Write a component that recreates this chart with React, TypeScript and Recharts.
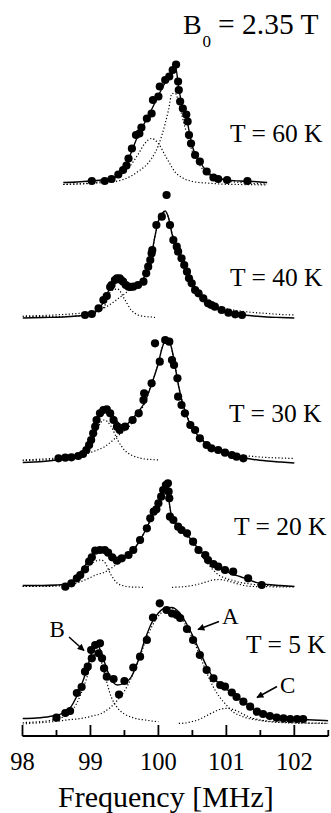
import React from 'react';
import { ComposedChart, Line, Scatter, XAxis, YAxis, Label } from 'recharts';

const FONT = "'Liberation Serif', 'Times New Roman', 'DejaVu Serif', serif";

// ---------- T = 60 K ----------
const f60Dots = [99.02, 99.21, 99.31, 99.41, 99.48, 99.53, 99.56, 99.61, 99.67, 99.72, 99.75, 99.83, 99.9, 99.92, 100.0, 100.02, 100.1, 100.16, 100.21, 100.26, 100.29, 100.3, 100.32, 100.36, 100.41, 100.43, 100.45, 100.48, 100.54, 100.61, 100.71, 100.81, 100.88, 101.01, 101.31];
const v60Dots = [4.5, 4.5, 6.5, 11, 15.5, 20, 27, 37, 50.5, 52, 58, 67, 72, 85.5, 89, 99, 105.5, 109, 115.5, 121, 104, 95.5, 84, 77, 71, 64, 50.5, 42, 30.5, 24, 14, 8, 6.5, 5.5, 4.5];
const f60Fit = [98.6, 98.8, 99.0, 99.2, 99.3, 99.4, 99.5, 99.6, 99.7, 99.8, 99.9, 100.0, 100.1, 100.15, 100.2, 100.25, 100.3, 100.35, 100.4, 100.45, 100.5, 100.6, 100.7, 100.8, 100.9, 101.0, 101.2, 101.4, 101.6];
const fit60Sum = [3, 3.5, 4.5, 6, 7.5, 10, 17, 33, 50, 63, 76, 90, 103, 109, 115, 119, 97, 80, 72, 55, 39, 25, 15, 9.5, 7, 5.5, 4.5, 4, 3];
const fit60Low = [1, 1.5, 2.5, 4.5, 6, 9, 14, 21, 31, 42, 47, 42, 30, 24, 18, 13, 10, 8, 6, 5, 4, 3, 2.5, 2, 1.5, 1.2, 1, 0.8, 0.6];
const fit60High = [1, 1.5, 2, 3, 3.5, 4.5, 6.5, 9.5, 14, 19, 27, 40, 62, 76, 92, 92, 82, 69, 56, 44, 34, 21, 13, 8.5, 6, 4.5, 3, 2, 1.5];

// ---------- T = 40 K ----------
const f40Dots = [98.92, 99.02, 99.12, 99.19, 99.24, 99.29, 99.31, 99.36, 99.39, 99.43, 99.45, 99.48, 99.52, 99.56, 99.59, 99.63, 99.7, 99.78, 99.82, 99.85, 99.88, 99.9, 99.91, 99.97, 100.05, 100.12, 100.17, 100.22, 100.27, 100.29, 100.34, 100.38, 100.42, 100.45, 100.49, 100.54, 100.59, 100.66, 100.73, 100.78, 100.83, 100.93, 101.03, 101.13, 101.23];
const v40Dots = [3, 4, 9.7, 18, 22, 31, 33, 38, 39.7, 39.7, 38, 36.3, 33, 31.3, 31, 31.3, 33, 36.3, 44.7, 51.3, 58, 64.7, 68, 93, 101.3, 123, 93, 78, 71.3, 66.3, 59.7, 53, 46.3, 39.7, 34.7, 28, 24.7, 19.7, 14.7, 13, 11.3, 8, 5.3, 3.7, 3];
const f40Fit = [98.0, 98.3, 98.6, 98.8, 99.0, 99.1, 99.2, 99.3, 99.4, 99.5, 99.6, 99.7, 99.8, 99.9, 99.95, 100.0, 100.05, 100.1, 100.15, 100.2, 100.3, 100.4, 100.5, 100.6, 100.7, 100.8, 100.9, 101.0, 101.2, 101.4, 101.6, 101.8, 102.0];
const fit40Sum = [0, 0.5, 1, 2, 4, 7, 17, 32, 39, 35, 32, 34, 42, 64, 82, 97, 104, 107, 100, 84, 66, 50, 34, 24, 17, 12, 8.5, 6, 3.5, 2, 1, 0.5, 0];
const fit40A = [2, 2.5, 3.5, 4.5, 6, 7.5, 10, 14, 19, 24, 29, 33, 42, 63, 82, 97, 104, 106, 100, 85, 67, 51, 36, 27, 20, 15, 12, 9.5, 7, 5.5, 4.5, 3.5, 3];
const fit40B = [1.5, 1.5, 1.5, 2, 3.5, 6, 11, 27, 29, 19, 8, 3, 1.5, 1, 0.5, null, null, null, null, null, null, null, null, null, null, null, null, null, null, null, null, null, null];

// ---------- T = 30 K ----------
const f30Dots = [98.53, 98.63, 98.72, 98.82, 98.89, 98.94, 98.98, 99.01, 99.04, 99.07, 99.09, 99.14, 99.19, 99.24, 99.29, 99.34, 99.39, 99.43, 99.51, 99.62, 99.71, 99.78, 99.79, 99.9, 99.95, 100.02, 100.1, 100.16, 100.2, 100.23, 100.28, 100.29, 100.34, 100.39, 100.47, 100.54, 100.61, 100.71, 100.78, 100.88, 100.98, 101.08, 101.15, 101.25];
const v30Dots = [3.7, 4.3, 4.7, 6, 8, 12, 17, 22, 28.7, 35.3, 42, 48.7, 52, 52.7, 48.7, 42, 35.3, 32, 35.3, 42, 48.7, 62, 68.7, 78.7, 118.7, 100.3, 122, 120.3, 102, 97, 83.7, 65.3, 57, 48.7, 37, 32, 23.7, 17, 13.7, 12, 9.3, 7, 5.3, 3.7];
const f30Fit = [98.0, 98.3, 98.5, 98.7, 98.8, 98.9, 99.0, 99.1, 99.2, 99.3, 99.4, 99.5, 99.6, 99.7, 99.8, 99.9, 100.0, 100.05, 100.1, 100.15, 100.2, 100.25, 100.3, 100.4, 100.5, 100.6, 100.7, 100.8, 100.9, 101.0, 101.2, 101.4, 101.6, 101.8, 102.0];
const fit30Sum = [-0.5, 0.5, 2, 4.5, 6.5, 10, 23, 44, 54, 50, 40, 36, 42, 50, 60, 78, 99, 113, 121, 122, 112, 94, 75, 49, 34, 25, 18.5, 14.5, 11.5, 9, 5, 2.5, 1, 0, -1];
const fit30A = [2, 3, 4, 5.5, 6.5, 8, 9.5, 12, 15, 20, 26, 31, 38, 48, 59, 78, 99, 113, 121, 122, 112, 94, 75, 50, 35, 26, 19.5, 15.5, 12.5, 10, 7, 5.5, 4.5, 4, 3.5];
const fit30B = [1.5, 2, 2.5, 3.5, 4.5, 7, 15, 33, 42, 36, 22, 12, 7, 4.5, 3, 2.5, 2, null, null, null, null, null, null, null, null, null, null, null, null, null, null, null, null, null, null];

// ---------- T = 20 K ----------
const f20Dots = [98.63, 98.72, 98.8, 98.85, 98.92, 98.98, 99.02, 99.07, 99.14, 99.21, 99.26, 99.32, 99.39, 99.46, 99.56, 99.63, 99.73, 99.83, 99.88, 99.93, 99.97, 100.0, 100.04, 100.07, 100.11, 100.14, 100.15, 100.16, 100.17, 100.22, 100.29, 100.34, 100.42, 100.51, 100.59, 100.69, 100.73, 100.81, 100.88, 100.98, 101.1, 101.32, 101.52];
const v20Dots = [0.8, 4.2, 9.2, 12.5, 18.2, 25.8, 30.2, 36.8, 37.5, 37.5, 34.8, 30.2, 26.8, 29.2, 32.5, 37.5, 47.5, 59.2, 69.2, 75.8, 78.2, 84.2, 90.8, 97.5, 102.5, 104.2, 95.8, 89.2, 70.8, 67.5, 60.8, 57.5, 54.2, 45.8, 37.5, 32.5, 27.5, 23.5, 20.8, 17.5, 15.8, 9.2, 2.5];
const f20Fit = [98.0, 98.3, 98.5, 98.6, 98.7, 98.8, 98.9, 99.0, 99.1, 99.15, 99.2, 99.3, 99.4, 99.5, 99.6, 99.7, 99.8, 99.9, 100.0, 100.05, 100.1, 100.13, 100.16, 100.2, 100.3, 100.4, 100.5, 100.6, 100.7, 100.8, 100.9, 101.0, 101.1, 101.2, 101.3, 101.4, 101.5, 101.6, 101.8, 102.0];
const fit20Sum = [2, 2, 2.5, 3, 5, 11, 20, 30, 38, 38.5, 38, 33, 28, 30, 35, 44, 56, 70, 84, 94, 102, 105, 85, 70, 61, 55, 46, 38, 31, 25, 20, 16, 13, 11, 8.5, 6, 4, 3, 2, 1];
const fit20A = [1, 1.5, 2, 2.5, 3, 4.5, 7, 10, 13, 14, 15, 19, 24, 28.5, 34.5, 44, 56, 70, 84, 94, 102, 105, 85, 70, 61, 53, 44, 35, 26, 18, 12, 9, 7, 5, 4, 3, 2.5, 2, 1.5, 1];
const fit20B = [1, 1, 1.5, 2, 4, 8, 16, 23, 27, 27.5, 26, 13, 4, 1.5, 0.5, 0.3, 0.2, null, null, null, null, null, null, null, null, null, null, null, null, null, null, null, null, null, null, null, null, null, null, null];
const fit20C = [null, null, null, null, null, null, null, null, null, null, null, null, null, null, null, null, null, null, null, null, null, null, null, 0.2, 0.5, 1, 2, 3.5, 5.5, 7.5, 8, 7, 5, 3, 1.5, 1, 0.9, 0.8, 0.6, 0.5];

// ---------- T = 5 K ----------
const f5Dots = [98.5, 98.63, 98.7, 98.8, 98.87, 98.92, 98.96, 99.01, 99.02, 99.07, 99.12, 99.14, 99.17, 99.2, 99.24, 99.34, 99.42, 99.5, 99.63, 99.73, 99.83, 99.92, 100.02, 100.12, 100.2, 100.27, 100.32, 100.42, 100.51, 100.61, 100.71, 100.81, 100.91, 100.98, 101.08, 101.15, 101.25, 101.35, 101.45, 101.54, 101.64, 101.74, 101.84, 101.94, 102.04, 102.13];
const v5Dots = [6.3, 11, 13, 31, 37, 52.3, 57.3, 74, 65.7, 79, 70.7, 80.7, 65.7, 55.7, 47.3, 45, 29.5, 43, 56.5, 67.3, 84, 106.5, 120.7, 114, 110.5, 109, 106, 95, 84, 69, 54, 45.7, 39, 37.3, 31.5, 27, 22.3, 17.3, 12.3, 10, 8, 6.3, 5.7, 5, 5, 5];
const f5Fit = [98.0, 98.2, 98.4, 98.6, 98.7, 98.8, 98.9, 99.0, 99.05, 99.1, 99.2, 99.3, 99.4, 99.5, 99.6, 99.7, 99.8, 99.9, 100.0, 100.1, 100.2, 100.3, 100.4, 100.5, 100.6, 100.7, 100.8, 100.9, 101.0, 101.1, 101.2, 101.3, 101.4, 101.5, 101.6, 101.8, 102.0, 102.2, 102.5];
const fit5Sum = [5.5, 6, 7.5, 11, 16, 28, 45, 67, 77, 79, 63, 45, 39, 41, 47, 63, 84, 101, 111, 116, 116.5, 112, 102, 89, 74, 59, 47, 40, 35, 30, 25, 20, 15, 11.5, 9, 6, 5, 4.2, 3.3];
const fit5A = [0, 1, 2, 3.5, 4.5, 5, 6, 7.5, 8.5, 9, 12, 17, 24, 33, 46, 62, 81, 97, 108, 114, 115.5, 110, 99, 86, 70, 53, 38, 27, 19, 12, 8.5, 6, 4.5, 3.5, 2.5, 1.5, 1, 0.8, 0.7];
const fit5B = [1.5, 2, 3.5, 7, 11, 21, 37, 58, 69, 72, 52, 28, 16, 10, 7, 5, 4, 3, 2.3, null, null, null, null, null, null, null, null, null, null, null, null, null, null, null, null, null, null, null, null];
const fit5C = [null, null, null, null, null, null, null, null, null, null, null, null, null, null, null, null, null, null, null, null, null, 0.6, 1, 2.5, 4.5, 8, 11.5, 14.5, 15.7, 14.5, 11.5, 8, 5.5, 4, 3, 2, 1.3, 1, 0.7];

// ---------- axis / labels ----------
const xTicks = [98, 98.5, 99, 99.5, 100, 100.5, 101, 101.5, 102, 102.5];
const tempLabels = ['T = 60 K', 'T = 40 K', 'T = 30 K', 'T = 20 K', 'T = 5 K'];
const peakLabels = ['A', 'B', 'C'];

type Pt = { f: number; v: number };
const toPts = (fs: number[], vs: (number | null)[]): Pt[] =>
  fs
    .map((f, i) => ({ f, v: vs[i] as number }))
    .filter((d) => d.v !== null && d.v !== undefined);

const DotShape = (p: any) =>
  p.cx == null || p.cy == null ? <g /> : <circle cx={p.cx} cy={p.cy} r={4.1} fill="#000" />;

const FreqTick = (p: any) => {
  const { x, y, payload } = p;
  const val = payload.value as number;
  const major = Math.abs(val - Math.round(val)) < 1e-6;
  return (
    <g>
      <line x1={x} x2={x} y1={y} y2={y - (major ? 11 : 6)} stroke="#000" strokeWidth={1.8} />
      {major ? (
        <text x={x} y={y + 34} textAnchor="middle" fontFamily={FONT} fontSize={24.5} fill="#000">
          {val}
        </text>
      ) : null}
    </g>
  );
};

const AxisTitle = (p: any) => {
  const vb = p && p.viewBox;
  const cx = vb ? vb.x + vb.width / 2 - 9.5 : 166;
  const by = vb ? vb.y + 70.7 : 806.7;
  return (
    <text x={cx} y={by} textAnchor="middle" fontFamily={FONT} fontSize={30} fill="#000">
      Frequency [MHz]
    </text>
  );
};

const AXIS_H = 77;

type PanelProps = {
  top: number;
  plotH: number;
  baseY: number;
  dots: Pt[];
  sum: Pt[];
  comps: Pt[][];
  axis?: boolean;
};

function Panel({ top, plotH, baseY, dots, sum, comps, axis }: PanelProps) {
  const h = plotH + (axis ? AXIS_H : 0);
  const vMax = baseY - top;
  const vMin = baseY - (top + plotH);
  return (
    <div style={{ position: 'absolute', left: 0, top, width: 331, height: h }}>
      <ComposedChart width={331} height={h} margin={{ top: 0, right: 2.7, bottom: 0, left: 22.5 }}>
        {axis ? (
          <XAxis
            type="number"
            dataKey="f"
            domain={[98, 102.5]}
            allowDataOverflow
            ticks={xTicks}
            interval={0}
            tick={FreqTick}
            tickLine={false}
            tickSize={0}
            tickMargin={0}
            axisLine={{ stroke: '#000', strokeWidth: 1.8 }}
            height={AXIS_H}
          >
            <Label content={AxisTitle} />
          </XAxis>
        ) : (
          <XAxis type="number" dataKey="f" domain={[98, 102.5]} allowDataOverflow hide />
        )}
        <YAxis type="number" dataKey="v" domain={[vMin, vMax]} allowDataOverflow hide />
        {comps.map((c, i) => (
          <Line
            key={i}
            data={c}
            dataKey="v"
            type="monotone"
            stroke="#000"
            strokeWidth={1.2}
            strokeDasharray="1.2 2.1"
            dot={false}
            activeDot={false}
            isAnimationActive={false}
          />
        ))}
        <Line
          data={sum}
          dataKey="v"
          type="monotone"
          stroke="#000"
          strokeWidth={1.4}
          dot={false}
          activeDot={false}
          isAnimationActive={false}
        />
        <Scatter data={dots} dataKey="v" shape={DotShape} isAnimationActive={false} />
      </ComposedChart>
    </div>
  );
}

const panels = [
  { top: 50, plotH: 140, baseY: 185.5, dots: toPts(f60Dots, v60Dots), sum: toPts(f60Fit, fit60Sum), comps: [toPts(f60Fit, fit60Low), toPts(f60Fit, fit60High)] },
  { top: 190, plotH: 135, baseY: 318, dots: toPts(f40Dots, v40Dots), sum: toPts(f40Fit, fit40Sum), comps: [toPts(f40Fit, fit40A), toPts(f40Fit, fit40B)] },
  { top: 330, plotH: 138, baseY: 462, dots: toPts(f30Dots, v30Dots), sum: toPts(f30Fit, fit30Sum), comps: [toPts(f30Fit, fit30A), toPts(f30Fit, fit30B)] },
  { top: 470, plotH: 122, baseY: 587.5, dots: toPts(f20Dots, v20Dots), sum: toPts(f20Fit, fit20Sum), comps: [toPts(f20Fit, fit20A), toPts(f20Fit, fit20B), toPts(f20Fit, fit20C)] },
  { top: 595, plotH: 141, baseY: 724, dots: toPts(f5Dots, v5Dots), sum: toPts(f5Fit, fit5Sum), comps: [toPts(f5Fit, fit5A), toPts(f5Fit, fit5B), toPts(f5Fit, fit5C)], axis: true },
];

const tempPos = [
  { x: 230, y: 141.7 },
  { x: 230, y: 285.5 },
  { x: 229, y: 422 },
  { x: 234, y: 534.5 },
  { x: 246, y: 652.5 },
];
const peakPos = [
  { x: 222, y: 624, ax1: 219, ay1: 621.5, ax2: 198, ay2: 629.5 },
  { x: 49.5, y: 637, ax1: 69, ay1: 637, ax2: 84, ay2: 650.5 },
  { x: 280, y: 693, ax1: 277, ay1: 686.5, ax2: 257, ay2: 697.5 },
];

export default function App() {
  return (
    <div style={{ position: 'absolute', left: 0, top: 0, width: 331, height: 813, background: '#fff', overflow: 'hidden' }}>
      {panels.map((p, i) => (
        <Panel key={i} {...p} />
      ))}
      <svg
        width={331}
        height={813}
        style={{ position: 'absolute', left: 0, top: 0, pointerEvents: 'none' }}
        fontFamily={FONT}
        fill="#000"
      >
        <defs>
          <marker id="arrowHead" viewBox="0 0 10 10" refX="9" refY="5" markerWidth="10" markerHeight="7" markerUnits="userSpaceOnUse" orient="auto">
            <path d="M0,0 L10,5 L0,10 z" fill="#000" />
          </marker>
        </defs>
        <text x={183} y={33.5} fontSize={28}>B</text>
        <text x={202.5} y={46.5} fontSize={17}>0</text>
        <text x={218} y={33.5} fontSize={29.5}>= 2.35 T</text>
        {tempLabels.map((t, i) => (
          <text key={t} x={tempPos[i].x} y={tempPos[i].y} fontSize={25.5}>
            {t}
          </text>
        ))}
        {peakLabels.map((t, i) => (
          <g key={t}>
            <text x={peakPos[i].x} y={peakPos[i].y} fontSize={23}>
              {t}
            </text>
            <line
              x1={peakPos[i].ax1}
              y1={peakPos[i].ay1}
              x2={peakPos[i].ax2}
              y2={peakPos[i].ay2}
              stroke="#000"
              strokeWidth={1.5}
              markerEnd="url(#arrowHead)"
            />
          </g>
        ))}
      </svg>
    </div>
  );
}
